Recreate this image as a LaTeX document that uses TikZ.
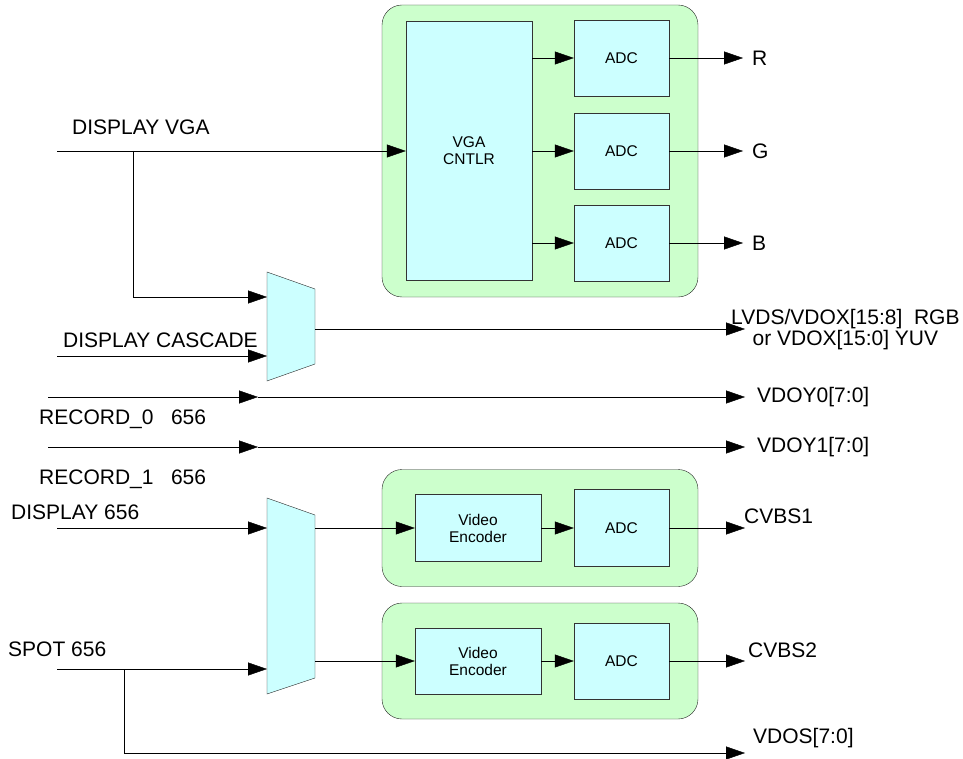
\documentclass[tikz,border=0pt]{standalone}
\usepackage{fontspec}
\setmainfont{Liberation Sans}
\usetikzlibrary{arrows.meta,positioning}

\definecolor{grpgreen}{HTML}{CCFFCC}
\definecolor{blkcyan}{HTML}{CCFFFF}

\tikzset{
  grp/.style={draw=black!85, fill=grpgreen, rounded corners=20pt, inner sep=0pt},
  blk/.style={draw=black!80, fill=blkcyan, inner sep=0pt, align=center,
    font=\fontsize{15.5}{17}\selectfont},
  mux/.style={draw=black!85, fill=blkcyan},
  lbl/.style={font=\fontsize{21}{21}\selectfont, inner sep=0pt, anchor=west},
  arr/.style={-{Triangle[length=19pt,width=13pt]}},
}

\begin{document}
\begin{tikzpicture}[x=1pt,y=-1pt]
  \useasboundingbox (0,0) rectangle (963,759);

  % Draw the VGA block
  \node[grp, minimum width=316pt, minimum height=292pt] (vgagrp) at (540,151) {};
  \node[blk, minimum width=126pt, minimum height=259pt] (vga) at (469,151) {VGA\\CNTLR};
  \node[blk, minimum width=95pt, minimum height=76pt] (adcr) at (621.5,58) {ADC};
  \node[blk, minimum width=95pt, minimum height=76pt] (adcg) at (621.5,151) {ADC};
  \node[blk, minimum width=95pt, minimum height=76pt] (adcb) at (621.5,243) {ADC};

  \foreach \a in {adcr,adcg,adcb}
    \draw[arr] (vga.east |- \a.west) -- (\a.west);

  \coordinate (rout) at (743,58);
  \coordinate (gout) at (743,151);
  \coordinate (bout) at (743,243);
  \draw[arr] (adcr.east) -- (rout);
  \draw[arr] (adcg.east) -- (gout);
  \draw[arr] (adcb.east) -- (bout);
  \node[lbl] (rlbl) at (752,58) {R};
  \node[lbl] (glbl) at (752,151) {G};
  \node[lbl] (blbl) at (752,243) {B};

  % Draw the first mux
  \draw[mux] (267,272) -- (315,289) -- (315,364) -- (267,381) -- cycle;
  \coordinate (muxaa) at (267,297);
  \coordinate (muxab) at (267,356);
  \coordinate (muxao) at (315,329);

  \coordinate (vgain) at (57,151);
  \coordinate (vgabr) at (133,151);
  \coordinate (cascin) at (57,356);
  \coordinate (lvdsout) at (745,329);
  \draw[arr] (vgain) -- (vga.west);
  \draw[arr] (vgabr) |- (muxaa);
  \draw[arr] (cascin) -- (muxab);
  \draw[arr] (muxao) -- (lvdsout);

  \node[lbl] (vgalbl) at (72,127) {DISPLAY VGA};
  \node[lbl] (casclbl) at (63,340) {DISPLAY CASCADE};
  \node[lbl, align=center] (lvdslbl) at (731,329.5)
    {LVDS/VDOX[15:8]\ \ RGB\\or VDOX[15:0] YUV};

  % Record lines
  \coordinate (recain) at (48,397);
  \coordinate (recamid) at (258,397);
  \coordinate (recaout) at (745,397);
  \coordinate (recbin) at (48,447);
  \coordinate (recbmid) at (258,447);
  \coordinate (recbout) at (745,447);
  \draw[arr] (recain) -- (recamid);
  \draw[arr] (recamid) -- (recaout);
  \draw[arr] (recbin) -- (recbmid);
  \draw[arr] (recbmid) -- (recbout);

  \node[lbl] (recalbl) at (39,419) {RECORD\_0\ \ \ 656};
  \node[lbl] (recblbl) at (39,479) {RECORD\_1\ \ \ 656};
  \node[lbl] (vdoyalbl) at (757,397) {VDOY0[7:0]};
  \node[lbl] (vdoyblbl) at (757,447) {VDOY1[7:0]};

  % Draw the encoder blocks
  \node[grp, minimum width=316pt, minimum height=117pt] (encgrpa) at (540,528) {};
  \node[blk, minimum width=126pt, minimum height=67pt] (enca) at (478,528) {Video\\Encoder};
  \node[blk, minimum width=95pt, minimum height=77pt] (adcc) at (621.5,528) {ADC};

  \node[grp, minimum width=316pt, minimum height=116pt] (encgrpb) at (540,661) {};
  \node[blk, minimum width=126pt, minimum height=66pt] (encb) at (478,661) {Video\\Encoder};
  \node[blk, minimum width=95pt, minimum height=76pt] (adcd) at (621.5,661) {ADC};

  % Draw the second mux
  \draw[mux] (267,498) -- (315,515) -- (315,678) -- (267,694) -- cycle;
  \coordinate (muxba) at (267,528);
  \coordinate (muxbb) at (267,669);
  \coordinate (muxboa) at (315,528);
  \coordinate (muxbob) at (315,661);

  \coordinate (dispin) at (57,528);
  \coordinate (spotin) at (57,669);
  \coordinate (spotbr) at (124,669);
  \coordinate (cvbsaout) at (745,528);
  \coordinate (cvbsbout) at (745,661);
  \coordinate (vdosout) at (745,753);
  \draw[arr] (dispin) -- (muxba);
  \draw[arr] (spotin) -- (muxbb);
  \draw[arr] (spotbr) |- (vdosout);
  \draw[arr] (muxboa) -- (enca.west);
  \draw[arr] (muxbob) -- (encb.west);
  \draw[arr] (enca) -- (adcc);
  \draw[arr] (encb) -- (adcd);
  \draw[arr] (adcc) -- (cvbsaout);
  \draw[arr] (adcd) -- (cvbsbout);

  \node[lbl] (displbl) at (11,512) {DISPLAY 656};
  \node[lbl] (spotlbl) at (8,649) {SPOT 656};
  \node[lbl] (cvbsalbl) at (744,516) {CVBS1};
  \node[lbl] (cvbsblbl) at (748,650) {CVBS2};
  \node[lbl] (vdoslbl) at (753,738) {VDOS[7:0]};
\end{tikzpicture}
\end{document}
